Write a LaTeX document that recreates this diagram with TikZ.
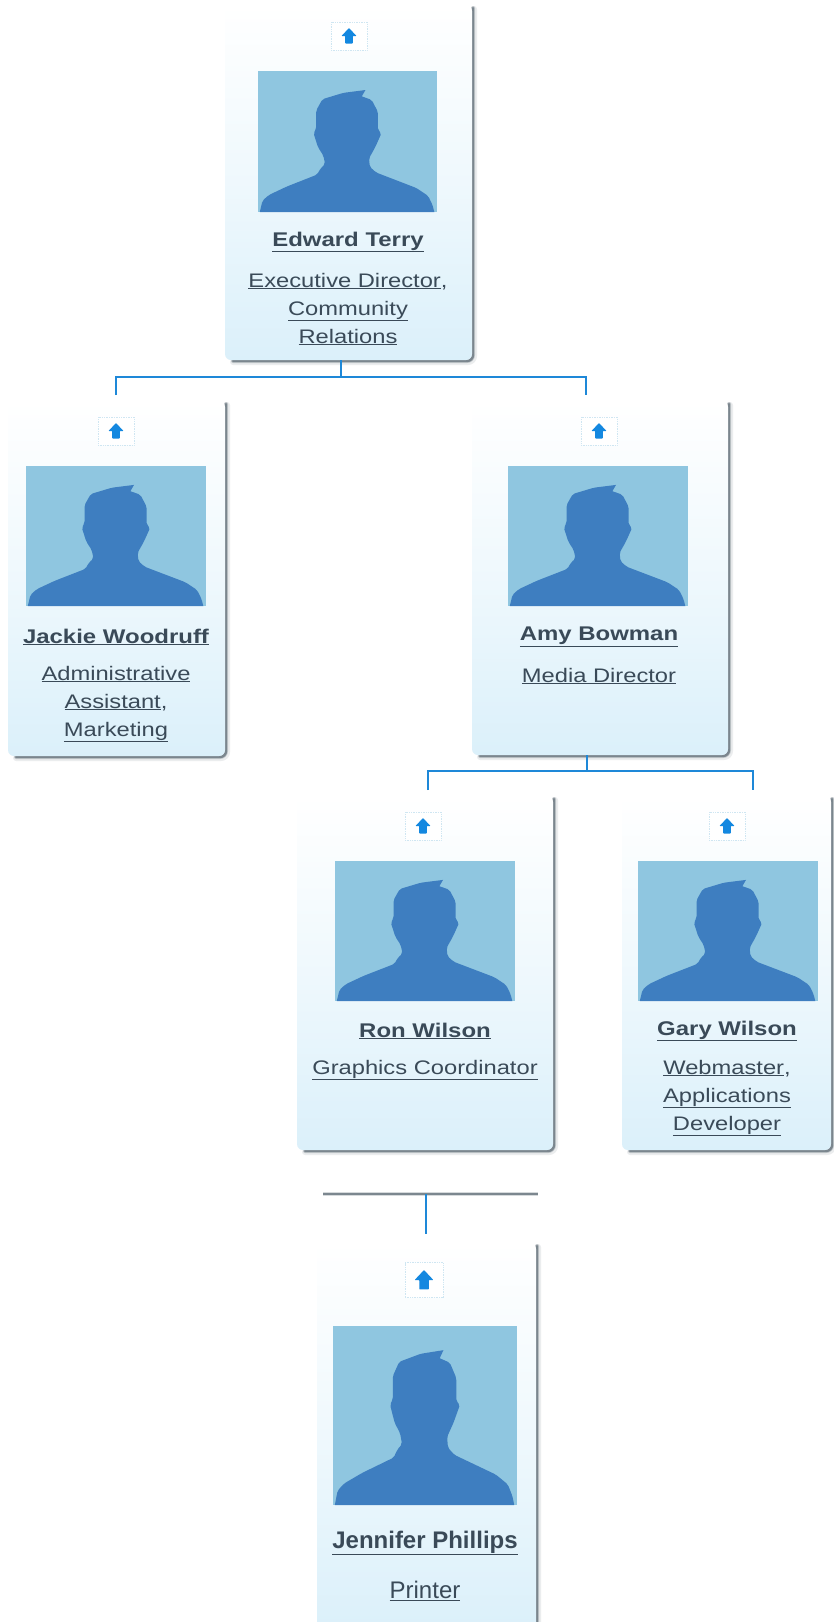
\documentclass[tikz,border=0pt]{standalone}
\usepackage{fontspec}
\setmainfont{Liberation Sans}
\newfontfamily\widefont[FakeStretch=1.21]{Liberation Sans}
\definecolor{cardlow}{HTML}{DBF0FA}
\definecolor{photobg}{HTML}{8FC6E0}
\definecolor{figure}{HTML}{3E7EC0}
\definecolor{linkblue}{HTML}{1E88D8}
\definecolor{arrowblue}{HTML}{1488E0}
\definecolor{boxedge}{HTML}{CFE6F2}
\definecolor{inkcol}{HTML}{3A4A58}
\definecolor{shadowcol}{HTML}{5F6C76}
\tikzset{
  cardbox/.style={rectangle,rounded corners=6pt,top color=white,bottom color=cardlow,middle color=cardlow!45!white,draw=none,inner sep=0pt},
  photobox/.style={rectangle,fill=photobg,draw=none,inner sep=0pt},
  upbox/.style={rectangle,fill=white,draw=boxedge,densely dotted,line width=.7pt,inner sep=0pt},
  conn/.style={draw=linkblue,line width=1.6pt},
  nametext/.style={text=inkcol,align=center,inner sep=0pt,font=\widefont\bfseries\fontsize{19.8}{24}\selectfont},
  roletext/.style={text=inkcol,align=center,inner sep=0pt,font=\widefont\fontsize{19.6}{28}\selectfont},
  bigname/.style={text=inkcol,align=center,inner sep=0pt,font=\bfseries\fontsize{24}{28}\selectfont},
  bigrole/.style={text=inkcol,align=center,inner sep=0pt,font=\fontsize{24}{28}\selectfont},
  softshadow/.style={draw=shadowcol,line cap=round,rounded corners=6pt}
}
% id, left, top, right, bottom
\newcommand{\orgcard}[5]{%
  \pgfmathsetmacro{\cw}{#4-#2}\pgfmathsetmacro{\ch}{#5-#3}%
  \pgfmathsetmacro{\cx}{(#2+#4)/2}\pgfmathsetmacro{\cy}{(#3+#5)/2}%
  \draw[softshadow,line width=6pt,opacity=.12] (#4+2,#3+4) -- (#4+2,#5+2) -- (#2+8,#5+2);
  \draw[softshadow,line width=4pt,opacity=.3] (#4+1,#3+3) -- (#4+1,#5+1) -- (#2+8,#5+1);
  \draw[softshadow,line width=2.4pt,opacity=.7] (#4+1,#3+3) -- (#4+1,#5+1) -- (#2+8,#5+1);
  \node[cardbox,minimum width=\cw pt,minimum height=\ch pt] (#1) at (\cx,\cy) {};
}
% id, left, top, right, bottom
\newcommand{\orgphoto}[5]{%
  \pgfmathsetmacro{\pw}{#4-#2}\pgfmathsetmacro{\ph}{#5-#3}%
  \pgfmathsetmacro{\px}{(#2+#4)/2}\pgfmathsetmacro{\py}{(#3+#5)/2}%
  \node[photobox,minimum width=\pw pt,minimum height=\ph pt] (#1) at (\px,\py) {};
  \begin{scope}[shift={(#2,#5)},x=\pw pt,y=\ph pt]
    \fill[figure,rounded corners=2pt] (.01,0) -- (.025,.08) -- (.06,.12) -- (.16,.18) -- (.33,.265) -- (.35,.31) -- (.375,.34)
      -- (.365,.40) -- (.335,.46) -- (.31,.56) -- (.325,.59) -- (.325,.72) -- (.36,.80) -- (.477,.845)
      [sharp corners] -- (.60,.865) -- (.58,.82) [rounded corners=2pt] -- (.635,.795) -- (.67,.71) -- (.67,.58)
      -- (.69,.56) -- (.655,.46) -- (.62,.38) -- (.625,.32) -- (.66,.28) -- (.885,.17) -- (.95,.115) -- (.975,.05)
      [sharp corners] -- (.985,0) -- cycle;
  \end{scope}
}
% id, centre x, centre y, width, height, arrow scale
\newcommand{\orgup}[6]{%
  \node[upbox,minimum width=#4pt,minimum height=#5pt] (#1) at (#2,#3) {};
  \begin{scope}[shift={(#2,#3)},scale=#6]
    \fill[arrowblue,rounded corners=.6pt] (0,-8) -- (7.5,0) -- (3.8,0) -- (3.8,7.5) -- (-3.8,7.5) -- (-3.8,0) -- (-7.5,0) -- cycle;
  \end{scope}
}
\begin{document}
\begin{tikzpicture}[x=1pt,y=-1pt]
\useasboundingbox (0,0) rectangle (834,1622);
\fill[white] (0,0) rectangle (834,1622);

% cards
\orgcard{edward}{225}{5}{472}{360}
\orgcard{jackie}{8}{401}{225}{756}
\orgcard{amy}{472}{401}{728}{755}
\orgcard{ron}{297}{796}{553}{1150}
\orgcard{gary}{622}{796}{831}{1150}
\orgcard{jennifer}{317}{1243}{536}{1630}

% detached shadow strip
\coordinate (stripL) at (323,1194);
\coordinate (stripR) at (538,1194);
\draw[draw=shadowcol,line width=4.5pt,opacity=.25] (stripL) -- (stripR);
\draw[draw=shadowcol,line width=2.2pt,opacity=.75] (stripL) -- (stripR);

% photos
\orgphoto{edwardpic}{258}{71}{437}{212}
\orgphoto{jackiepic}{26}{466}{206}{606}
\orgphoto{amypic}{508}{466}{688}{606}
\orgphoto{ronpic}{335}{861}{515}{1001}
\orgphoto{garypic}{638}{861}{818}{1001}
\orgphoto{jenniferpic}{333}{1326}{517}{1505}

% up buttons
\orgup{edwardup}{349}{36}{36}{28}{1}
\orgup{jackieup}{116}{431}{36}{28}{1}
\orgup{amyup}{599}{431}{36}{28}{1}
\orgup{ronup}{423}{826}{36}{28}{1}
\orgup{garyup}{727}{826}{36}{28}{1}
\orgup{jenniferup}{424}{1280}{38}{35}{1.25}

% texts
\node[nametext] (edwardname) at (348,242) {\underline{Edward Terry}};
\node[roletext] (edwardrole) at (348,309) {\underline{Executive Director},\\\underline{Community}\\\underline{Relations}};
\node[nametext] (jackiename) at (116,637) {\underline{Jackie Woodruff}};
\node[roletext] (jackierole) at (116,704) {\underline{Administrative}\\\underline{Assistant},\\\underline{Marketing}};
\node[nametext] (amyname) at (599,637) {\underline{Amy Bowman}};
\node[roletext] (amyrole) at (599,676) {\underline{Media Director}};
\node[nametext] (ronname) at (425,1031) {\underline{Ron Wilson}};
\node[roletext] (ronrole) at (425,1070) {\underline{Graphics Coordinator}};
\node[nametext] (garyname) at (727,1031) {\underline{Gary Wilson}};
\node[roletext] (garyrole) at (727,1098) {\underline{Webmaster},\\\underline{Applications}\\\underline{Developer}};
\node[bigname] (jennifername) at (425,1543) {\underline{Jennifer Phillips}};
\node[bigrole] (jenniferrole) at (425,1591) {\underline{Printer}};

% connectors
\coordinate (busA) at (341,377);
\coordinate (endA1) at (116,395);
\coordinate (endA2) at (586,395);
\draw[conn] (edward.south -| busA) -- (busA);
\draw[conn] (endA1) -- (endA1 |- busA) -- (endA2 |- busA) -- (endA2);
\coordinate (busB) at (587,771);
\coordinate (endB1) at (428,790);
\coordinate (endB2) at (753,790);
\draw[conn] (amy.south -| busB) -- (busB);
\draw[conn] (endB1) -- (endB1 |- busB) -- (endB2 |- busB) -- (endB2);
\coordinate (stemT) at (426,1194);
\coordinate (stemB) at (426,1234);
\draw[conn] (stemT) -- (stemB);
\end{tikzpicture}
\end{document}
